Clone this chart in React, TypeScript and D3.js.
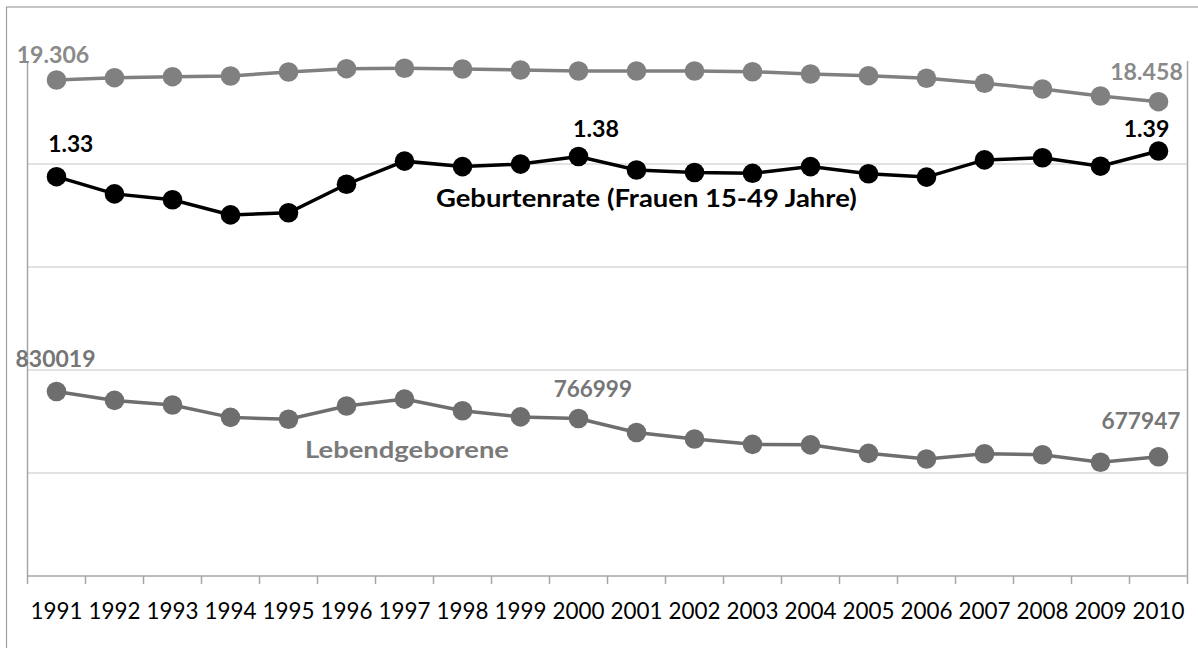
import React from "react";
import * as d3 from "d3";

const years = ["1991","1992","1993","1994","1995","1996","1997","1998","1999","2000","2001","2002","2003","2004","2005","2006","2007","2008","2009","2010"];
const births = [830019, 809114, 798447, 769603, 765221, 796013, 812173, 785034, 770744, 766999, 734475, 719250, 706721, 705622, 685795, 672724, 684862, 682514, 665126, 677947];
const fertility = [1.33, 1.289, 1.275, 1.239, 1.244, 1.312, 1.367, 1.354, 1.36, 1.378, 1.346, 1.34, 1.338, 1.354, 1.337, 1.329, 1.37, 1.375, 1.355, 1.391];
const women = [19.306, 19.396, 19.435, 19.462, 19.619, 19.748, 19.763, 19.736, 19.697, 19.658, 19.658, 19.658, 19.63, 19.54, 19.474, 19.372, 19.177, 18.954, 18.681, 18.458];
const seriesNames = ["Geburtenrate (Frauen 15-49 Jahre)", "Lebendgeborene"];

const W = 1198, H = 648;
const L = 27.5, R = 1187.5, T = 61, B = 576;
const FONT = "Lato, 'Open Sans', sans-serif";

export default function App() {
  const x = d3.scaleBand<string>().domain(years).range([L, R]).padding(0);
  const cx = (i: number) => (x(years[i]) as number) + x.bandwidth() / 2;
  const yBirths = d3.scaleLinear().domain([400000, 1600000]).range([B, T]);
  const yRate = d3.scaleLinear().domain([0.379, 1.6055]).range([B, T]);
  const yWomen = d3.scaleLinear().domain([-0.077, 20.048]).range([B, T]);

  const gridVals = d3.range(400000 + 240000, 1600000 - 1, 240000);
  const tickXs = years.map((yr) => x(yr) as number).concat([R]);

  const line = (vals: number[], sc: d3.ScaleLinear<number, number>) =>
    d3.line<number>().x((_, i) => cx(i)).y((v) => sc(v))(vals) as string;

  const series = [
    { vals: births, sc: yBirths, color: "#6e6e6e", labelColor: "#767676", fmt: (v: number) => String(v),
      labels: [{ i: 0, dx: -1, dy: -24.7, w: 80 }, { i: 9, dx: 14.3, dy: -21.7, w: 78.3 }, { i: 19, dx: -17.5, dy: -27.4, w: 79 }] },
    { vals: fertility, sc: yRate, color: "#000000", labelColor: "#000000", fmt: (v: number) => v.toFixed(2),
      labels: [{ i: 0, dx: 14.3, dy: -24.7, w: 45 }, { i: 9, dx: 17.5, dy: -20, w: 46 }, { i: 19, dx: -12, dy: -13.7, w: 45.7 }] },
    { vals: women, sc: yWomen, color: "#808080", labelColor: "#8a8a8a", fmt: (v: number) => v.toFixed(3),
      labels: [{ i: 0, dx: -3.5, dy: -17, w: 72.6 }, { i: 19, dx: -12, dy: -21.7, w: 72.7 }] },
  ];

  return (
    <svg width={W} height={H} style={{ position: "absolute", left: 0, top: 0, background: "#fff" }}>
      <rect x={0} y={0} width={W} height={H} fill="#fff" />
      {/* outer chart frame */}
      <rect x={6.5} y={7} width={1300} height={800} fill="none" stroke="#a0a0a0" strokeWidth={1.2} />
      {/* gridlines */}
      {gridVals.map((g) => (
        <line key={g} x1={L} x2={R} y1={yBirths(g)} y2={yBirths(g)} stroke="#d9d9d9" strokeWidth={1.5} />
      ))}
      {/* axes */}
      <line x1={L} x2={L} y1={T} y2={B} stroke="#a6a6a6" strokeWidth={1.5} />
      <line x1={R} x2={R} y1={T} y2={B} stroke="#a6a6a6" strokeWidth={1.5} />
      <line x1={L} x2={R} y1={B} y2={B} stroke="#a6a6a6" strokeWidth={1.5} />
      {tickXs.map((tx, i) => (
        <line key={i} x1={tx} x2={tx} y1={B} y2={B + 8} stroke="#a6a6a6" strokeWidth={1.5} />
      ))}
      {years.map((yr, i) => (
        <text key={yr} x={cx(i)} y={619} textAnchor="middle" fontFamily={FONT} fontSize={24}
          fill="#000" textLength={52} lengthAdjust="spacingAndGlyphs">{yr}</text>
      ))}
      {/* series */}
      {series.map((s, k) => (
        <g key={k}>
          <path d={line(s.vals, s.sc)} fill="none" stroke={s.color} strokeWidth={3.5} />
          {s.vals.map((v, i) => (
            <circle key={i} cx={cx(i)} cy={s.sc(v)} r={9.8} fill={s.color} />
          ))}
          {s.labels.map((lb) => (
            <text key={lb.i} x={cx(lb.i) + lb.dx} y={s.sc(s.vals[lb.i]) + lb.dy} textAnchor="middle"
              fontFamily={FONT} fontWeight="bold" fontSize={22} fill={s.labelColor}
              textLength={lb.w} lengthAdjust="spacingAndGlyphs">{s.fmt(s.vals[lb.i])}</text>
          ))}
        </g>
      ))}
      <text x={436} y={207.3} fontFamily={FONT} fontWeight="bold" fontSize={24.5} fill="#000"
        textLength={420.7} lengthAdjust="spacingAndGlyphs">{seriesNames[0]}</text>
      <text x={305} y={458.3} fontFamily={FONT} fontWeight="bold" fontSize={23} fill="#7a7a7a"
        textLength={204} lengthAdjust="spacingAndGlyphs">{seriesNames[1]}</text>
    </svg>
  );
}
